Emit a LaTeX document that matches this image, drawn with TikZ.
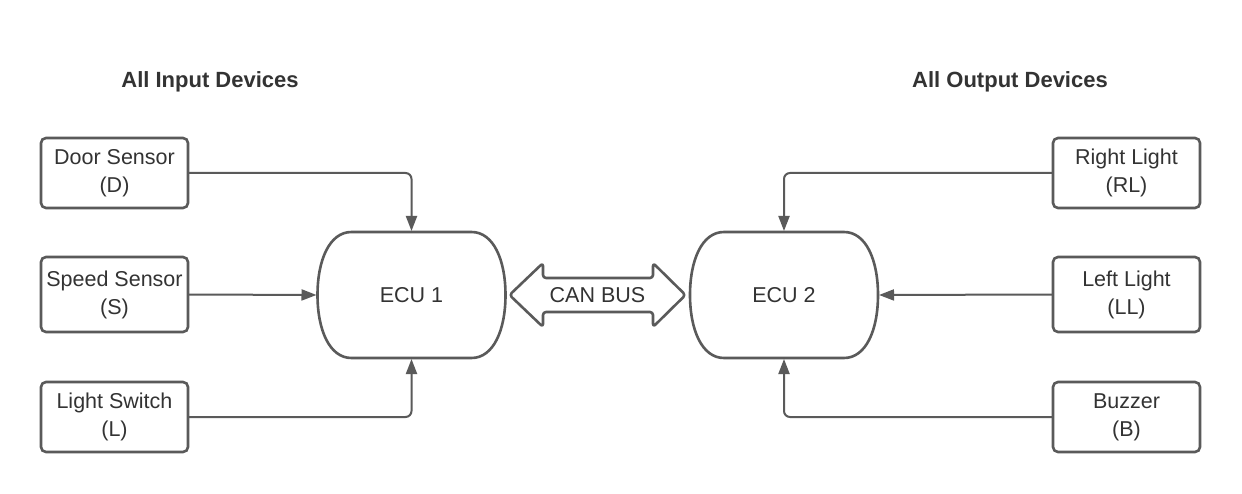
\documentclass[tikz,border=0pt]{standalone}
\usepackage{fontspec}
\setmainfont{Liberation Sans}
\usetikzlibrary{arrows.meta,calc}
\definecolor{lc}{HTML}{5A5A5A}
\definecolor{tc}{HTML}{333333}
\begin{document}
\begin{tikzpicture}[x=1pt,y=-1pt,
  dev/.style={draw=lc, line width=2.6pt, rounded corners=5pt, minimum width=147pt,
    minimum height=70pt, align=center, text=tc, inner sep=0pt, outer sep=0pt,
    font=\fontsize{21.5}{28}\selectfont},
  ecu/.style={minimum width=188pt, minimum height=126pt, inner sep=0pt, outer sep=0pt,
    text=tc, font=\fontsize{21.5}{28}\selectfont},
  eculine/.style={draw=lc, line width=2.6pt},
  conn/.style={draw=lc, line width=2pt, rounded corners=6pt,
    -{Triangle[length=15pt,width=11pt]}, shorten >=1pt},
  title/.style={text=tc, font=\fontsize{22}{26}\selectfont\bfseries, inner sep=0pt}]
\useasboundingbox (0,0) rectangle (1242,494);
\fill[white] (0,0) rectangle (1242,494);

% titles
\node[title] (tin) at (210,82) {All Input Devices};
\node[title] (tout) at (1010,82) {All Output Devices};

% input devices
\node[dev] (ds) at (114.5,173) {Door Sensor\\(D)};
\node[dev, minimum height=75pt] (ss) at (114.5,294.5) {Speed Sensor\\(S)};
\node[dev] (ls) at (114.5,417) {Light Switch\\(L)};

% output devices
\node[dev] (rl) at (1126.5,173) {Right Light\\(RL)};
\node[dev, minimum height=75pt] (ll) at (1126.5,294.5) {Left Light\\(LL)};
\node[dev] (bz) at (1126.5,417) {Buzzer\\(B)};

% ECUs
\node[ecu] (e1) at (411.5,295) {ECU 1};
\node[ecu] (e2) at (784,295) {ECU 2};
\foreach \e in {e1,e2}{
  \draw[eculine]
    ($(\e.north west)+(34,0)$) -- ($(\e.north east)+(-34,0)$)
    .. controls ($(\e.north east)+(-12,0)$) and ($(\e.north east)+(0,28)$) .. (\e.east)
    .. controls ($(\e.south east)+(0,-28)$) and ($(\e.south east)+(-12,0)$) .. ($(\e.south east)+(-34,0)$)
    -- ($(\e.south west)+(34,0)$)
    .. controls ($(\e.south west)+(12,0)$) and ($(\e.south west)+(0,-28)$) .. (\e.west)
    .. controls ($(\e.north west)+(0,28)$) and ($(\e.north west)+(12,0)$) .. ($(\e.north west)+(34,0)$)
    -- cycle;
}

% CAN BUS double arrow
\draw[eculine, rounded corners=3pt, line join=round]
  (509.5,295) -- (543,263) -- (543,278) -- (653,278) -- (653,263) -- (685.5,295)
  -- (653,327) -- (653,312) -- (543,312) -- (543,327) -- cycle;
\node[text=tc, font=\fontsize{21.5}{28}\selectfont, inner sep=0pt] (can) at (597.5,295) {CAN BUS};

% connectors
\draw[conn] (ds.east) -| (e1.north);
\draw[conn] (ss.east) -- (e1.west);
\draw[conn] (ls.east) -| (e1.south);
\draw[conn] (rl.west) -| (e2.north);
\draw[conn] (ll.west) -- (e2.east);
\draw[conn] (bz.west) -| (e2.south);
\end{tikzpicture}
\end{document}
